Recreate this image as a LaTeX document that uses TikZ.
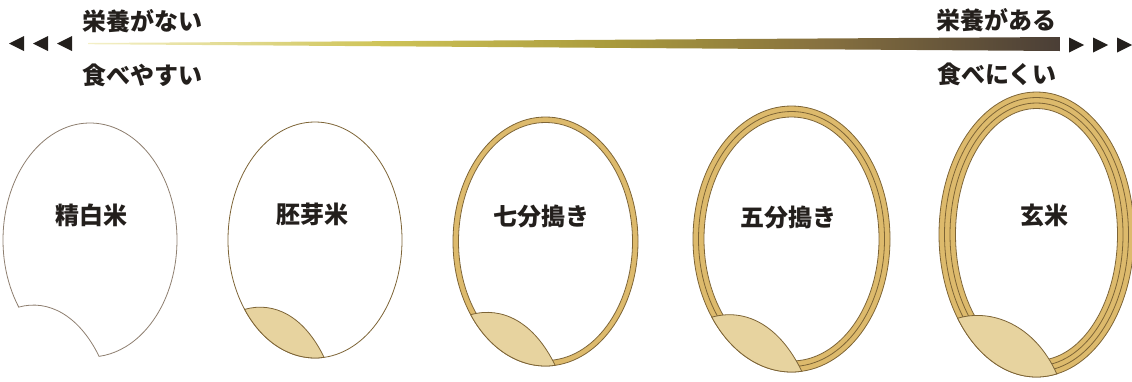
\documentclass[tikz,border=0pt]{standalone}
\usepackage{fontspec}
\newfontfamily\jpfont{Noto Sans CJK JP}
\usepackage{tikz}
\usetikzlibrary{calc}

\definecolor{bran}{HTML}{DDBA6C}
\definecolor{germ}{HTML}{E7D39F}
\definecolor{husk}{HTML}{7D6436}
\definecolor{hull}{HTML}{8E7F70}
\definecolor{ink}{HTML}{231F1C}
\definecolor{barA}{HTML}{F4F0C8}
\definecolor{barB}{HTML}{CFC458}
\definecolor{barC}{HTML}{A99A3C}
\definecolor{barD}{HTML}{86703F}
\definecolor{barE}{HTML}{4A3E36}

\pgfdeclarehorizontalshading{nutrition}{100bp}{color(0bp)=(barA); color(25bp)=(barA);
  color(40bp)=(barB); color(52bp)=(barC); color(63bp)=(barD); color(75bp)=(barE); color(100bp)=(barE)}

\tikzset{
    caption/.style={font=\jpfont\bfseries\fontsize{24}{26}\selectfont, text=ink, inner sep=0pt},
    tag/.style={font=\jpfont\bfseries\fontsize{24}{26}\selectfont, text=ink, inner sep=0pt},
    band/.style={draw=husk, line width=0.8pt},
    germpart/.style={fill=germ, draw=husk, line width=0.8pt},
    hullline/.style={draw=hull, line width=0.8pt},
    pointer/.style={fill=ink}
}

\begin{document}
\begin{tikzpicture}[x=1pt, y=-1pt]
    \useasboundingbox (0,0) rectangle (1132,381);

    % Nutrition bar
    \shade[shading=nutrition] (88,43) -- (1060,37) -- (1060,51) -- (88,44.2) -- cycle;
    \foreach \x in {9,33,57}
        \fill[pointer] (\x,43.5) -- (\x+15,36) -- (\x+15,51) -- cycle;
    \foreach \x in {1069,1093,1117}
        \fill[pointer] (\x,37.5) -- (\x+15,45) -- (\x,52.5) -- cycle;

    % Captions
    \node[caption, anchor=west] (poor) at (82,21) {栄養がない};
    \node[caption, anchor=west] (easy) at (82,75) {食べやすい};
    \node[caption, anchor=east] (rich) at (1057,20) {栄養がある};
    \node[caption, anchor=east] (hard) at (1057,74) {食べにくい};

    % White rice, germ cut away
    \begin{scope}[shift={(90,240)}]
        \coordinate (A) at (145:87 and 117);
        \coordinate (B) at (84:87 and 117);
        \draw[hullline, fill=white] (A) arc[start angle=145, end angle=444, x radius=87, y radius=117]
            .. controls +(-0.23*87,-0.35*117) and +(0.34*87,-0.07*117) .. (A) -- cycle;
    \end{scope}
    \node[tag] (seihaku) at (91,215) {精白米};

    % Grains with germ and bran layers
    \foreach \cx/\cy/\rx/\ry/\n/\tip/\tx/\ty/\name/\txt in {
        315/240/87/118/0/84/312/214/haiga/胚芽米,
        545.5/241.5/92.5/124.5/1/84/541/216/shichibu/七分搗き,
        791.5/239/98.5/133/2/84/788/217/gobu/五分搗き,
        1036.5/234.5/97.5/142.5/3/78/1044/215/genmai/玄米}
    {
        \begin{scope}[shift={(\cx,\cy)}]
            % bran layers, outside in
            \foreach \k in {0,...,\n} {
                \ifnum\k<\n \def\layer{bran}\else\def\layer{white}\fi
                \filldraw[band, fill=\layer] (0,0) ellipse[x radius=\rx-5.5*\k, y radius=\ry-5.5*\k];
            }
            % germ
            \coordinate (A) at (144:{\rx} and {\ry});
            \coordinate (B) at (\tip:{\rx} and {\ry});
            \draw[germpart] (A) .. controls +(0.34*\rx,-0.07*\ry) and +(-0.23*\rx,-0.35*\ry) .. (B)
                arc[start angle=\tip, end angle=144, x radius=\rx, y radius=\ry] -- cycle;
        \end{scope}
        \node[tag] (\name) at (\tx,\ty) {\txt};
    }
\end{tikzpicture}
\end{document}
